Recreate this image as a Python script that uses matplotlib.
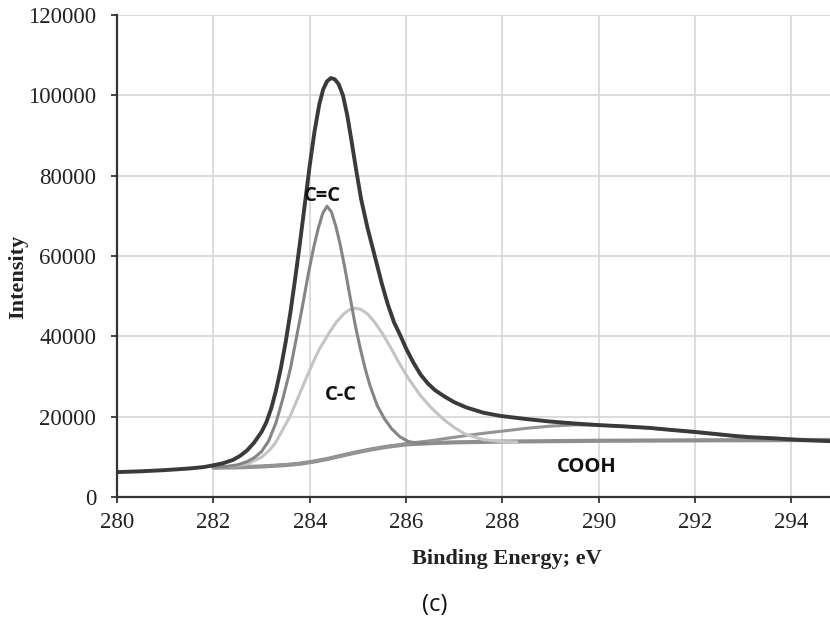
import matplotlib
matplotlib.use("Agg")
import matplotlib.pyplot as plt

plt.rcParams["font.family"] = ["Liberation Serif", "DejaVu Serif"]
plt.rcParams["xtick.labelsize"] = 16.5
plt.rcParams["ytick.labelsize"] = 16.5

# ---- data (binding energy in eV, intensity in counts) ----
spec_e = [280.0, 280.5, 281.0, 281.5, 281.8, 282.0, 282.2, 282.4, 282.55, 282.7,
          282.85, 283.0, 283.1, 283.2, 283.3, 283.4, 283.5, 283.6, 283.7, 283.8,
          283.9, 284.0, 284.1, 284.2, 284.28, 284.36, 284.44, 284.52, 284.6, 284.69,
          284.78, 284.87, 284.97, 285.07, 285.2, 285.35, 285.5, 285.62, 285.75, 285.87,
          286.0, 286.15, 286.3, 286.45, 286.6, 286.8, 287.0, 287.25, 287.6, 287.95,
          288.5, 288.98, 289.5, 290.0, 290.5, 291.06, 291.5, 292.0, 292.5, 292.82,
          293.13, 293.65, 294.17, 294.8]
spec_i = [6200, 6400, 6700, 7100, 7450, 7900, 8400, 9200, 10200, 11600,
          13600, 16200, 18600, 22000, 26500, 32000, 38500, 46000, 54500, 63500,
          73000, 82500, 91000, 97800, 101500, 103500, 104300, 104000, 102800, 100000,
          95000, 88500, 81000, 74000, 67000, 60000, 53000, 48000, 43500, 40500,
          37000, 33500, 30500, 28300, 26600, 25000, 23600, 22300, 21000, 20200,
          19400, 18800, 18300, 17900, 17600, 17200, 16700, 16200, 15600, 15200,
          14900, 14600, 14200, 13900]

cc_double_e = [282.0, 282.3, 282.5, 282.7, 282.85, 283.0, 283.15, 283.3, 283.45, 283.6,
               283.73, 283.85, 283.97, 284.08, 284.18, 284.27, 284.36, 284.45, 284.54, 284.63,
               284.73, 284.85, 284.95, 285.05, 285.15, 285.25, 285.4, 285.55, 285.7, 285.87,
               286.05, 286.25, 286.45]
cc_double_i = [7400, 7650, 8000, 8800, 9800, 11300, 14000, 18500, 24800, 32000,
               40000, 47500, 55500, 62000, 67000, 70600, 72400, 71000, 67500, 63000,
               57000, 49000, 42500, 37000, 32000, 27800, 22800, 19500, 17000, 15000,
               13800, 13400, 13350]

cc_single_e = [282.0, 282.4, 282.7, 283.0, 283.17, 283.3, 283.45, 283.59, 283.75, 283.9,
               284.05, 284.2, 284.4, 284.55, 284.7, 284.82, 284.94, 285.06, 285.2, 285.35,
               285.52, 285.68, 285.85, 286.05, 286.29, 286.5, 286.77, 287.0, 287.25, 287.6,
               287.95, 288.3]
cc_single_i = [7400, 7700, 8200, 9900, 11700, 13700, 17000, 20000, 24500, 28800,
               33000, 36800, 40800, 43500, 45500, 46600, 47000, 46700, 45600, 43500,
               40500, 37200, 33500, 29500, 25400, 22500, 19400, 17300, 15500, 14300,
               13800, 13700]

bg_e = [282.0, 282.5, 283.0, 283.5, 283.8, 284.1, 284.4, 284.7, 285.0, 285.3,
        285.6, 286.0, 286.5, 287.0, 288.0, 290.0, 292.0, 294.8]
bg_i = [7300, 7400, 7600, 7950, 8300, 8850, 9550, 10400, 11200, 11900,
        12500, 13100, 13400, 13600, 13800, 14000, 14100, 14200]

cooh_e = [282.0, 283.0, 283.8, 284.4, 285.0, 285.6, 286.08, 286.5, 286.9, 287.25,
          287.6, 288.0, 288.5, 289.0, 289.5, 290.0, 290.5, 291.0, 291.5, 292.0,
          292.5, 293.0, 293.5, 294.0, 294.8]
cooh_i = [7300, 7600, 8300, 9550, 11200, 12500, 13400, 14000, 14700, 15300,
          15850, 16400, 17100, 17650, 17950, 17900, 17600, 17200, 16700, 16100,
          15500, 15000, 14650, 14400, 14200]

x_ticks = [280, 282, 284, 286, 288, 290, 292, 294]
y_ticks = [0, 20000, 40000, 60000, 80000, 100000, 120000]

labels = ["C=C", "C-C", "COOH"]
label_pos = [(284.27, 74900), (284.64, 25400), (289.75, 7500)]

# ---- figure ----
fig = plt.figure(figsize=(8.3, 6.25), dpi=100)
ax = fig.add_axes([117 / 830, 128 / 625, 713 / 830, 482 / 625])

ax.plot(bg_e, bg_i, color="#8e8e8e", lw=3.0, solid_capstyle="round",
        solid_joinstyle="round", zorder=3)
ax.plot(cooh_e, cooh_i, color="#949494", lw=2.2, solid_capstyle="round",
        solid_joinstyle="round", zorder=3)
ax.plot(cc_single_e, cc_single_i, color="#c4c4c4", lw=2.2, solid_capstyle="round",
        solid_joinstyle="round", zorder=4)
ax.plot(cc_double_e, cc_double_i, color="#858585", lw=2.2, solid_capstyle="round",
        solid_joinstyle="round", zorder=5)
ax.plot(spec_e, spec_i, color="#3a3a3a", lw=2.8, solid_capstyle="round",
        solid_joinstyle="round", zorder=6)

for txt, (xe, yi) in zip(labels, label_pos):
    ax.text(xe, yi, txt, ha="center", va="center", fontsize=14.5,
            fontweight="bold", family="Open Sans", color="#111111", zorder=7)

ax.set_xlim(280, 294.8)
ax.set_ylim(0, 120000)
ax.set_xticks(x_ticks)
ax.set_yticks(y_ticks)
ax.set_xticklabels([str(t) for t in x_ticks], fontsize=16.5,
                   family="Liberation Serif", color="#222222")
ax.set_yticklabels([str(t) for t in y_ticks], fontsize=16.5,
                   family="Liberation Serif", color="#222222")

ax.tick_params(axis="both", direction="out", length=4, width=1.3, color="#333333")
ax.tick_params(axis="x", pad=7)
ax.tick_params(axis="y", pad=11)

ax.grid(True, color="#d9d9d9", lw=1.3)
ax.set_axisbelow(True)
for s in ["top", "right"]:
    ax.spines[s].set_visible(False)
for s in ["left", "bottom"]:
    ax.spines[s].set_color("#333333")
    ax.spines[s].set_linewidth(1.6)

ax.set_xlabel("Binding Energy; eV", family="Liberation Serif", fontweight="bold",
              fontsize=16, color="#222222")
ax.xaxis.set_label_coords(0.5465, -0.108)
ax.set_ylabel("Intensity", family="Liberation Serif", fontweight="bold",
              fontsize=16, color="#222222")
ax.yaxis.set_label_coords(-0.125, 0.456)

fig.text(435 / 830, 1 - 605 / 625, "(c)", ha="center", va="center",
         fontsize=17, family="Open Sans", color="#111111")

fig.savefig("out.png", dpi=100)
